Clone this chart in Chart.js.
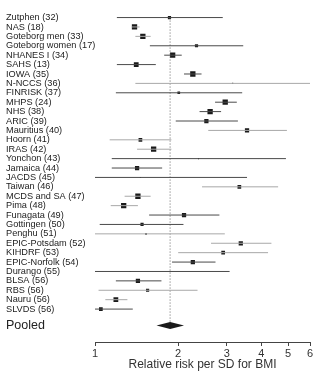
<!DOCTYPE html>
<html>
<head>
<meta charset="utf-8">
<script src="https://cdn.jsdelivr.net/npm/chart.js@4.4.0/dist/chart.umd.min.js"></script>
<style>
html,body{margin:0;padding:0;background:#fff}
#wrap{width:325px;height:377px;position:relative}
</style>
</head>
<body>
<div id="wrap"><canvas id="c"></canvas></div>
<script>
// study labels, top to bottom
var studies = ['Zutphen (32)','NAS (18)','Goteborg men (33)','Goteborg women (17)','NHANES I (34)','SAHS (13)','IOWA (35)','N-NCCS (36)','FINRISK (37)','MHPS (24)','NHS (38)','ARIC (39)','Mauritius (40)','Hoorn (41)','IRAS (42)','Yonchon (43)','Jamaica (44)','JACDS (45)','Taiwan (46)','MCDS and SA (47)','Pima (48)','Funagata (49)','Gottingen (50)','Penghu (51)','EPIC-Potsdam (52)','KIHDRF (53)','EPIC-Norfolk (54)','Durango (55)','BLSA (56)','RBS (56)','Nauru (56)','SLVDS (56)'];
// relative risk and 95% CI
var rr = [1.86,1.39,1.49,2.33,1.91,1.41,2.26,3.15,2.01,2.96,2.61,2.53,3.55,1.46,1.63,2.37,1.42,1.46,3.33,1.43,1.27,2.10,1.48,1.53,3.37,2.91,2.26,1.34,1.43,1.55,1.19,1.05];
var lo = [1.20,1.36,1.40,1.58,1.78,1.20,2.10,1.40,1.19,2.72,2.39,1.96,2.57,1.13,1.42,1.15,1.15,1.00,2.44,1.28,1.14,1.57,1.04,1.00,2.63,2.00,1.90,1.00,1.19,1.03,1.09,1.00];
var hi = [2.90,1.45,1.59,3.44,2.06,1.66,2.43,6.00,3.41,3.26,2.86,3.29,4.95,1.89,1.89,4.91,1.75,3.55,4.60,1.59,1.43,2.82,2.09,2.95,4.35,4.23,2.73,3.07,1.74,2.35,1.31,1.37];
// study weight (marker size)
var weight = [3,5,5,3,5,4.5,5,1,2.5,5,5,4,4,3.5,5,1,4,1,3.5,5,5,4,3,1.5,4,3.5,4,1,4,3,4.5,3.5];
// studies drawn with a grey CI line
var greyStudies = ['NAS (18)','Goteborg men (33)','N-NCCS (36)','Mauritius (40)','Hoorn (41)','IRAS (42)','Taiwan (46)','MCDS and SA (47)','Pima (48)','Penghu (51)','EPIC-Potsdam (52)','KIHDRF (53)','RBS (56)','Nauru (56)'];
// pooled estimate [lower, rr, upper]
var pooled = [1.67, 1.87, 2.10];
var xTicks = [1,2,3,4,5,6];

var pooledRow = 32.74;

var datasets = [];
studies.forEach(function(s, i) {
  datasets.push({
    type:'line',
    data:[{x:lo[i],y:i},{x:hi[i],y:i}],
    borderColor: greyStudies.indexOf(s) >= 0 ? '#a8a8a8' : '#4a4a4a',
    borderWidth:1, pointRadius:0, fill:false
  });
});
datasets.push({
  type:'line',
  data:[{x:pooled[1],y:0},{x:pooled[1],y:pooledRow}],
  borderColor:'#666', borderWidth:1, borderDash:[1,2], pointRadius:0
});
datasets.push({
  type:'scatter',
  data:rr.map(function(v,i){ return {x:v,y:i}; }),
  pointStyle:'rect',
  pointRadius:weight.map(function(w){ return w*0.75; }),
  backgroundColor:'#1a1a1a', borderWidth:0
});

var diamond = {
  id:'diamond',
  afterDatasetsDraw:function(chart) {
    var x = chart.scales.x, y = chart.scales.y, ctx = chart.ctx;
    var yc = y.getPixelForValue(pooledRow);
    ctx.save();
    ctx.fillStyle = '#1a1a1a';
    ctx.beginPath();
    ctx.moveTo(x.getPixelForValue(pooled[0]), yc);
    ctx.lineTo(x.getPixelForValue(pooled[1]), yc-3.5);
    ctx.lineTo(x.getPixelForValue(pooled[2]), yc);
    ctx.lineTo(x.getPixelForValue(pooled[1]), yc+3.5);
    ctx.closePath();
    ctx.fill();
    ctx.restore();
  }
};

var labels = studies.concat(['Pooled']);
var rows = studies.map(function(s,i){ return i; }).concat([pooledRow]);

new Chart(document.getElementById('c'), {
  data:{datasets:datasets},
  plugins:[diamond],
  options:{
    responsive:true, maintainAspectRatio:false, animation:false,
    layout:{padding:{left:6,right:15,top:0,bottom:5}},
    plugins:{legend:{display:false},tooltip:{enabled:false}},
    scales:{
      x:{
        type:'logarithmic', min:1, max:6,
        afterBuildTicks:function(ax){ ax.ticks = xTicks.map(function(v){ return {value:v}; }); },
        ticks:{color:'#333',font:{family:'Liberation Sans',size:11},padding:1,maxRotation:0,
          callback:function(v){ return String(v); }},
        grid:{drawOnChartArea:false,tickLength:4,color:'#444'},
        border:{display:true,color:'#444',width:1},
        title:{display:true,text:'Relative risk per SD for BMI',color:'#333',
          font:{family:'Liberation Sans',size:12},padding:{top:0,bottom:0}},
        afterFit:function(ax){ ax.height = 30; }
      },
      y:{
        type:'linear', reverse:true, min:-1.07, max:34.5,
        afterBuildTicks:function(ax){ ax.ticks = rows.map(function(v){ return {value:v}; }); },
        ticks:{color:'#222',crossAlign:'far',padding:0,autoSkip:false,
          font:function(c){ return {family:'Liberation Sans',size: c.index === studies.length ? 12.5 : 9.2}; },
          callback:function(v,i){ return labels[i]; }},
        grid:{display:false}, border:{display:false},
        afterFit:function(ax){ ax.width = 89; }
      }
    }
  }
});
</script>
</body>
</html>
